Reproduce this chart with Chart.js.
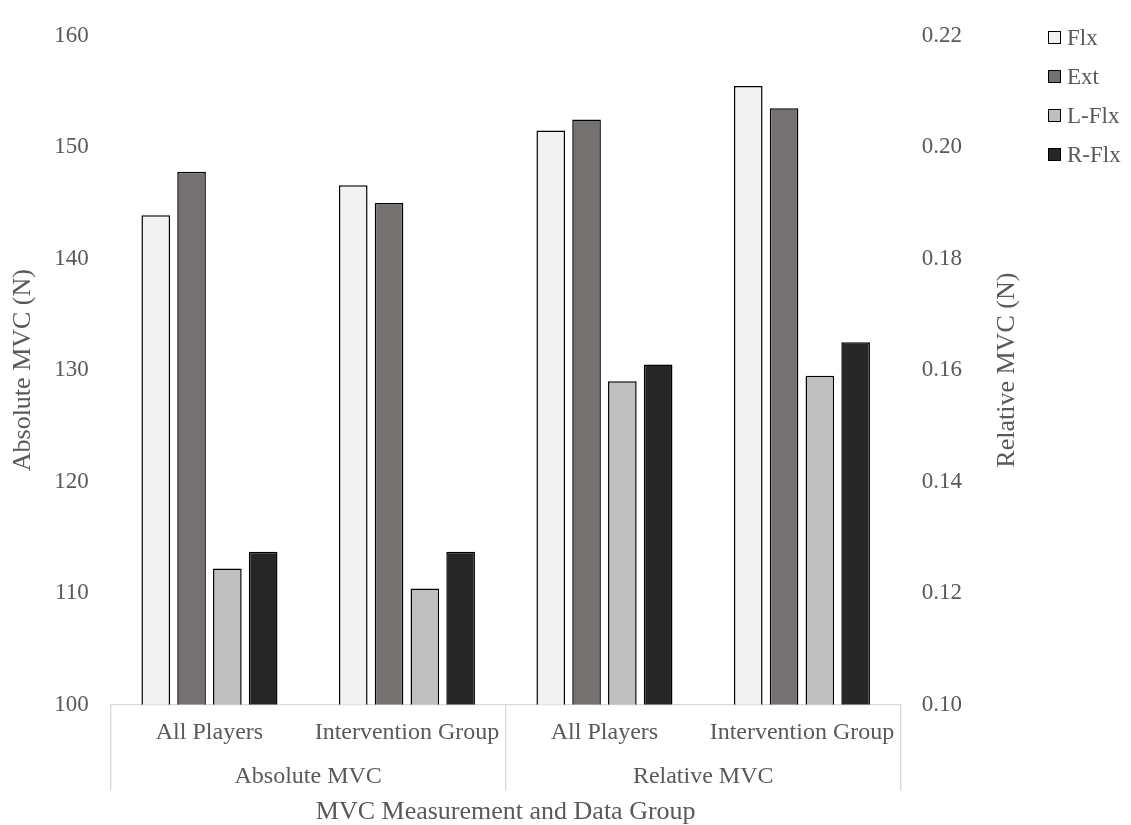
<!DOCTYPE html>
<html>
<head>
<meta charset="utf-8">
<script src="https://cdn.jsdelivr.net/npm/chart.js@4.4.1/dist/chart.umd.min.js"></script>
<style>
  html, body { margin: 0; padding: 0; background: #ffffff; }
  #wrap { position: relative; width: 1131px; height: 825px; }
  #legend { position: absolute; left: 1048px; top: 18px; font-family: "Liberation Serif", serif; font-size: 23px; color: #595959; }
  #legend .item { display: flex; align-items: center; height: 39px; }
  #legend .swatch { width: 13px; height: 13px; box-sizing: border-box; border: 1px solid #000; margin-right: 6px; }
</style>
</head>
<body>
<div id="wrap">
  <canvas id="chart" width="1131" height="825"></canvas>
  <div id="legend"></div>
</div>
<script>
// Categories on the x axis and their two measurement groups
const categories = ['All Players', 'Intervention Group', 'All Players', 'Intervention Group'];
const groups = ['Absolute MVC', 'Relative MVC'];

// Muscle actions (series) and their fills
const seriesNames = ['Flx', 'Ext', 'L-Flx', 'R-Flx'];
const seriesColors = ['#f2f2f2', '#767171', '#bfbfbf', '#262626'];

// Absolute MVC (N): [All Players, Intervention Group]
const absFlx = [143.9, 146.6];
const absExt = [147.8, 145.0];
const absLFlx = [112.2, 110.4];
const absRFlx = [113.7, 113.7];

// Relative MVC (N): [All Players, Intervention Group]
const relFlx = [0.203, 0.211];
const relExt = [0.205, 0.207];
const relLFlx = [0.158, 0.159];
const relRFlx = [0.161, 0.165];

// Axis ranges and tick steps
const absTicks = { min: 100, max: 160, step: 10 };
const relTicks = { min: 0.10, max: 0.22, step: 0.02 };

const TEXT = '#595959';
const FONT = '"Liberation Serif", "Times New Roman", serif';

const absSeries = [absFlx, absExt, absLFlx, absRFlx];
const relSeries = [relFlx, relExt, relLFlx, relRFlx];

const datasets = [];
seriesNames.forEach((name, i) => {
  datasets.push({
    label: name,
    data: [absSeries[i][0], absSeries[i][1], null, null],
    yAxisID: 'y',
    backgroundColor: seriesColors[i],
    borderColor: '#000000',
    borderWidth: 1.5
  });
});
seriesNames.forEach((name, i) => {
  datasets.push({
    label: name,
    data: [null, null, relSeries[i][0], relSeries[i][1]],
    yAxisID: 'y1',
    backgroundColor: seriesColors[i],
    borderColor: '#000000',
    borderWidth: 1.5
  });
});

// Legend built from the series list
const legendEl = document.getElementById('legend');
seriesNames.forEach((name, i) => {
  const row = document.createElement('div');
  row.className = 'item';
  const sw = document.createElement('span');
  sw.className = 'swatch';
  sw.style.background = seriesColors[i];
  const txt = document.createElement('span');
  txt.textContent = name;
  row.appendChild(sw);
  row.appendChild(txt);
  legendEl.appendChild(row);
});

// Frame lines between category groups and the right-hand axis title
const framePlugin = {
  id: 'categoryFrame',
  afterDraw(chart) {
    const { ctx } = chart;
    const x = chart.scales.x;
    const x2 = chart.scales.x2;
    const y1 = chart.scales.y1;
    const mid = (x.getPixelForValue(1) + x.getPixelForValue(2)) / 2;
    const top = x.top;
    const bottom = x2.top + 43;
    ctx.save();
    ctx.strokeStyle = '#d9d9d9';
    ctx.lineWidth = 1.3;
    [x.left, mid, x.right].forEach(px => {
      ctx.beginPath();
      ctx.moveTo(px, top);
      ctx.lineTo(px, bottom);
      ctx.stroke();
    });
    ctx.restore();

    ctx.save();
    ctx.translate(y1.right - 28, (chart.chartArea.top + chart.chartArea.bottom) / 2);
    ctx.rotate(-Math.PI / 2);
    ctx.font = '26px ' + FONT;
    ctx.fillStyle = TEXT;
    ctx.textAlign = 'center';
    ctx.textBaseline = 'middle';
    ctx.fillText('Relative MVC (N)', 0, 0);
    ctx.restore();
  }
};

new Chart(document.getElementById('chart'), {
  type: 'bar',
  data: { labels: categories, datasets },
  plugins: [framePlugin],
  options: {
    responsive: false,
    animation: false,
    skipNull: true,
    categoryPercentage: 0.725,
    barPercentage: 0.8,
    layout: { padding: { top: 24, right: 96, bottom: 0, left: 0 } },
    plugins: {
      legend: { display: false },
      tooltip: { enabled: false }
    },
    scales: {
      x: {
        type: 'category',
        position: 'bottom',
        offset: true,
        grid: { display: false, drawTicks: false },
        border: { display: true, color: '#d9d9d9', width: 1.3 },
        ticks: { color: TEXT, font: { family: FONT, size: 24 }, padding: 14, maxRotation: 0, autoSkip: false },
        afterFit(scale) { scale.height = 43; }
      },
      x2: {
        type: 'category',
        position: 'bottom',
        labels: groups,
        offset: true,
        grid: { display: false, drawTicks: false },
        border: { display: false },
        ticks: { color: TEXT, font: { family: FONT, size: 24 }, padding: 15, maxRotation: 0, autoSkip: false },
        title: {
          display: true,
          text: 'MVC Measurement and Data Group',
          color: TEXT,
          font: { family: FONT, size: 26, lineHeight: 1 },
          padding: { top: 0, bottom: 0 }
        },
        afterFit(scale) { scale.height = 77.5; }
      },
      y: {
        position: 'left',
        min: absTicks.min,
        max: absTicks.max,
        grid: { display: false, drawTicks: false },
        border: { display: false },
        ticks: { stepSize: absTicks.step, color: TEXT, font: { family: FONT, size: 23 }, padding: 22 },
        title: {
          display: true,
          text: 'Absolute MVC (N)',
          color: TEXT,
          font: { family: FONT, size: 26, lineHeight: 1 },
          padding: { top: 10, bottom: 0 }
        },
        afterFit(scale) { scale.width = 110.7; }
      },
      y1: {
        position: 'right',
        min: relTicks.min,
        max: relTicks.max,
        grid: { display: false, drawTicks: false },
        border: { display: false },
        ticks: {
          stepSize: relTicks.step,
          color: TEXT,
          font: { family: FONT, size: 23 },
          padding: 21,
          callback: v => Number(v).toFixed(2)
        },
        afterFit(scale) { scale.width = 134.3; }
      }
    }
  }
});
</script>
</body>
</html>
